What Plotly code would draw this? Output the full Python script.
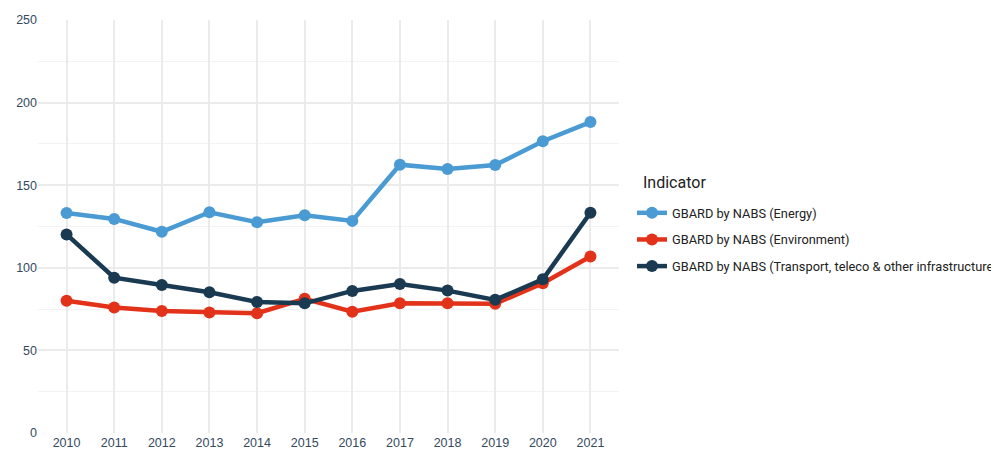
import plotly.graph_objects as go

years = [2010, 2011, 2012, 2013, 2014, 2015, 2016, 2017, 2018, 2019, 2020, 2021]
energy = [133.2, 129.6, 121.8, 133.6, 127.6, 131.8, 128.4, 162.4, 159.8, 162.2, 176.6, 188.2]
environment = [80.0, 76.0, 73.8, 72.9, 72.5, 81.2, 73.4, 78.5, 78.6, 78.3, 90.6, 106.8]
transport = [120.2, 94.0, 89.6, 85.2, 79.3, 78.5, 86.0, 90.2, 86.2, 80.6, 93.0, 133.3]

names = ["GBARD by NABS (Energy)", "GBARD by NABS (Environment)",
         "GBARD by NABS (Transport, teleco & other infrastructure)"]
colors = ["#4a9bd3", "#e3321a", "#1a3a52"]
series = [energy, environment, transport]
legend_title = "Indicator"

fig = go.Figure()
for i, (n, c, s) in enumerate(zip(names, colors, series)):
    fig.add_trace(go.Scatter(x=years, y=s, name=n, mode="lines+markers",
                             legendgroup=f"g{i}",
                             line=dict(color=c, width=4.5),
                             marker=dict(color=c, size=12)))

# the page body adds an 8px offset, so margins are compensated
fig.update_layout(
    width=999, height=452,
    margin=dict(l=30, r=388, t=12, b=27, autoexpand=False),
    plot_bgcolor="white", paper_bgcolor="white",
    font=dict(family="Liberation Sans, Arial", color="#2c3e50", size=12),
    legend=dict(xref="container", yref="container",
                x=624/999, y=1 - 190/452, xanchor="left", yanchor="top",
                font=dict(size=12.8, family="Roboto", color="#222"),
                tracegroupgap=7, itemwidth=30),
    showlegend=True,
)
fig.add_annotation(text=legend_title, xref="paper", yref="paper",
                   x=1.0 + (633 - 611) / 581, y=1 - (174 - 12) / 413,
                   xanchor="left", yanchor="middle", showarrow=False,
                   font=dict(size=16, family="Roboto", color="#222"))
fig.update_xaxes(range=[2009.4, 2021.6], tickmode="array", tickvals=years,
                 ticktext=[str(y) for y in years], showgrid=True, automargin=False,
                 gridcolor="#ebebeb", gridwidth=1.5, zeroline=False, showline=False,
                 ticks="", tickfont=dict(size=12.5, color="#34495e"))
fig.update_yaxes(range=[0, 250], tickvals=[0, 50, 100, 150, 200, 250], automargin=False,
                 showgrid=True, gridcolor="#ebebeb", gridwidth=1.5, zeroline=False,
                 minor=dict(tickvals=[25, 75, 125, 175, 225], showgrid=True,
                            gridcolor="#f3f3f3", gridwidth=1),
                 ticks="", tickfont=dict(size=12.5, color="#34495e"))

fig.write_html("out.html")
